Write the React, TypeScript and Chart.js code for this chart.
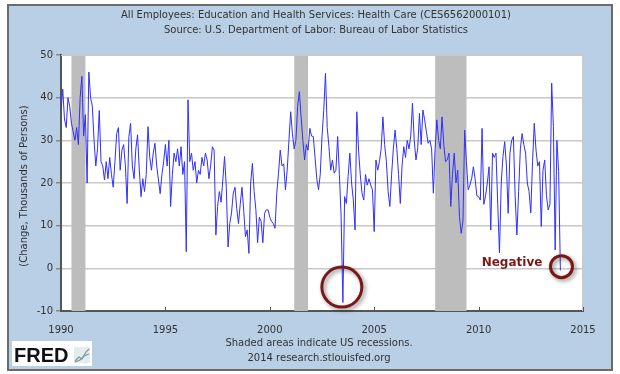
import React, { useEffect, useRef } from "react";
import { Chart, registerables } from "chart.js";

Chart.register(...registerables);

// Monthly change in health-care employment (thousands), Jan 1990 – Dec 2013
const startYear = 1990;
const changes1990s = [
  37, 42, 35, 33, 40, 38, 34, 32, 30, 33, 29, 40,
  45, 31, 36, 20, 46, 40, 38, 30, 24, 28, 37, 25,
  24, 20.7, 25, 21, 26, 22, 19, 25, 31.6, 33, 23, 27.7,
  29, 24, 15.2, 30.9, 34, 24, 21, 28, 31.3, 23, 16.8, 21,
  18, 22, 33.2, 26, 23, 27, 29.3, 24, 20.7, 17.5, 22, 25,
  29, 24, 30, 14.5, 22, 27, 25, 28, 24, 28.5, 22, 25,
  3.9, 39.5, 25, 27, 23, 25, 20, 23, 22, 26, 24, 27,
  25.4, 21, 24, 28.5, 27.7, 7.8, 14.5, 18, 15.5, 20.7, 26.2, 19,
  5, 10.5, 13, 17.6, 19, 14, 10.5, 15, 19, 13.7, 7.4, 9,
  3.5, 20, 24.6, 18, 13.7, 6, 12, 11, 6, 12.9, 13.7, 13.7,
];
const changes2000s = [
  12, 11, 10.5, 9.4, 17.6, 22.3, 27.7, 24, 24.5, 18.4, 23, 30,
  36.7, 31.6, 28, 30, 37.9, 41.4, 35.5, 30, 25.4, 29, 27.7, 32.8,
  31, 30.9, 26, 21, 18.4, 22, 31, 37, 45.7, 33, 28.5, 23,
  25.4, 22.3, 23, 30.9, 22, 12, -8, 16.8, 15.2, 21.5, 27, 20,
  16, 9, 36.7, 27.7, 22, 17.6, 16, 22, 19.5, 21, 19.5, 18.4,
  8.6, 25.4, 23, 25, 28, 35.5, 29, 25, 18, 14.5, 22, 28,
  32.4, 28, 22, 15.2, 24, 28.5, 26, 30, 28, 31, 38.7, 30,
  25.4, 28, 36.3, 29, 37.1, 34.8, 32, 29.3, 30, 28, 17.6, 28,
  34.8, 30, 28, 35.5, 29, 25, 25.4, 27, 14.5, 22, 27, 20,
  23, 12.1, 8.2, 11, 32.4, 25, 18.4, 19.5, 21, 23.8, 21, 17,
];
const changes2010s = [
  16.8, 16, 32.8, 15, 17, 20, 23.8, 9, 27, 26, 27, 15,
  3.6, 20, 26.2, 29.7, 24, 12.9, 27, 30, 30.9, 17, 7.8, 18,
  28, 31.6, 29, 27, 20, 18, 13, 25, 34, 27.7, 24, 25,
  9.8, 23, 25.4, 17, 13.7, 15, 43.4, 33.2, 4.3, 30, 22.7, -0.5,
];

const recessionStarts = [1990.5, 2001.17, 2007.92];
const recessionEnds = [1991.17, 2001.83, 2009.42];

const xTickValues = [1990, 1995, 2000, 2005, 2010, 2015];

const titleLines = [
  "All Employees: Education and Health Services: Health Care (CES6562000101)",
  "Source: U.S. Department of Labor: Bureau of Labor Statistics",
];
const yAxisTitle = "(Change, Thousands of Persons)";
const footerLines = ["Shaded areas indicate US recessions.", "2014 research.stlouisfed.org"];

// Annotation anchors (data coordinates)
const bigCircle = { x: 2003.45, y: -4.4 };
const smallCircle = { x: 2013.97, y: 0.4 };
const negativeLabel = { text: "Negative", x: 2011.6, y: 1.2 };

const FONT = "'DejaVu Sans', Verdana, sans-serif";
const BLUE_BG = "#b9cfe5";
const DARK_RED = "#7a1818";

export default function App() {
  const ref = useRef<HTMLCanvasElement | null>(null);

  useEffect(() => {
    const canvas = ref.current;
    if (!canvas) return;
    const values = [...changes1990s, ...changes2000s, ...changes2010s];
    const points = values.map((v, i) => ({ x: startYear + i / 12, y: v }));

    const decor = {
      id: "decor",
      beforeDraw(chart: any) {
        const ctx = chart.ctx;
        const a = chart.chartArea;
        ctx.save();
        ctx.fillStyle = "#ffffff";
        ctx.fillRect(0, 0, chart.width, chart.height);
        ctx.fillStyle = BLUE_BG;
        ctx.fillRect(8, 5, 604, 365);
        ctx.strokeStyle = "#6b6b6b";
        ctx.lineWidth = 2;
        ctx.strokeRect(8, 5, 604, 365);
        ctx.fillStyle = "#ffffff";
        ctx.fillRect(a.left, a.top, a.right - a.left, a.bottom - a.top);
        ctx.restore();
      },
      beforeDatasetsDraw(chart: any) {
        const ctx = chart.ctx;
        const a = chart.chartArea;
        const xs = chart.scales.x;
        ctx.save();
        ctx.fillStyle = "#bdbdbd";
        recessionStarts.forEach((s, i) => {
          const x0 = xs.getPixelForValue(s);
          const x1 = xs.getPixelForValue(recessionEnds[i]);
          ctx.fillRect(x0, a.top, x1 - x0, a.bottom - a.top);
        });
        ctx.restore();
      },
      afterDraw(chart: any) {
        const ctx = chart.ctx;
        const a = chart.chartArea;
        const xs = chart.scales.x;
        const ys = chart.scales.y;
        ctx.save();
        // plot frame
        ctx.strokeStyle = "#c9c9c9";
        ctx.lineWidth = 1;
        ctx.beginPath();
        ctx.moveTo(a.left, a.top + 0.5);
        ctx.lineTo(a.right - 0.5, a.top + 0.5);
        ctx.lineTo(a.right - 0.5, a.bottom);
        ctx.stroke();
        // x inner tick marks
        ctx.strokeStyle = "#555";
        ctx.lineWidth = 1;
        xTickValues.forEach((t) => {
          const x = Math.round(xs.getPixelForValue(t)) + 0.5;
          ctx.beginPath();
          ctx.moveTo(x, a.bottom);
          ctx.lineTo(x, a.bottom - 4);
          ctx.stroke();
        });
        // titles
        ctx.fillStyle = "#333";
        ctx.font = `10px ${FONT}`;
        ctx.textAlign = "center";
        ctx.textBaseline = "middle";
        ctx.fillText(titleLines[0], 316, 15);
        ctx.fillText(titleLines[1], 316, 30);
        // y title
        ctx.save();
        ctx.translate(24, 186);
        ctx.rotate(-Math.PI / 2);
        ctx.fillText(yAxisTitle, 0, 0);
        ctx.restore();
        // footer
        ctx.fillText(footerLines[0], 319, 343);
        ctx.fillText(footerLines[1], 319, 358);
        // FRED logo
        ctx.fillStyle = "#ffffff";
        ctx.fillRect(12, 341, 80, 25);
        ctx.fillStyle = "#111";
        ctx.font = "bold 20px 'Liberation Sans', Arial, sans-serif";
        ctx.textAlign = "left";
        ctx.textBaseline = "alphabetic";
        ctx.fillText("FRED", 14, 362);
        ctx.fillStyle = "#e4ecef";
        ctx.fillRect(74, 347, 16, 16);
        ctx.strokeStyle = "#6fa36f";
        ctx.lineWidth = 1.2;
        ctx.beginPath();
        ctx.moveTo(75, 361);
        ctx.lineTo(79, 357);
        ctx.lineTo(82, 359);
        ctx.lineTo(86, 352);
        ctx.lineTo(89, 349);
        ctx.stroke();
        ctx.strokeStyle = "#7a8fb8";
        ctx.beginPath();
        ctx.moveTo(75, 362);
        ctx.lineTo(80, 360);
        ctx.lineTo(84, 356);
        ctx.lineTo(89, 354);
        ctx.stroke();
        // circles
        const drawRing = (cx: number, cy: number, r: number, w: number) => {
          ctx.save();
          ctx.shadowColor = "rgba(0,0,0,0.45)";
          ctx.shadowBlur = 4;
          ctx.shadowOffsetX = 2;
          ctx.shadowOffsetY = 2;
          ctx.strokeStyle = DARK_RED;
          ctx.lineWidth = w;
          ctx.beginPath();
          ctx.arc(cx, cy, r, 0, Math.PI * 2);
          ctx.stroke();
          ctx.restore();
        };
        drawRing(xs.getPixelForValue(bigCircle.x), ys.getPixelForValue(bigCircle.y), 20, 3);
        drawRing(xs.getPixelForValue(smallCircle.x), ys.getPixelForValue(smallCircle.y), 11, 3);
        ctx.fillStyle = DARK_RED;
        ctx.font = `bold 12px ${FONT}`;
        ctx.textAlign = "center";
        ctx.textBaseline = "middle";
        ctx.fillText(negativeLabel.text, xs.getPixelForValue(negativeLabel.x), ys.getPixelForValue(negativeLabel.y));
        ctx.restore();
      },
    };

    const chart = new Chart(canvas, {
      type: "line",
      data: {
        datasets: [
          {
            data: points,
            borderColor: "#2f2fff",
            borderWidth: 1,
            pointRadius: 0,
            tension: 0,
            fill: false,
          },
        ],
      },
      options: {
        animation: false,
        responsive: false,
        devicePixelRatio: 1,
        layout: { padding: { left: 0, right: 37, top: 55, bottom: 0 } },
        plugins: { legend: { display: false }, tooltip: { enabled: false }, title: { display: false } },
        scales: {
          x: {
            type: "linear",
            min: 1990,
            max: 2015,
            afterFit: (s: any) => {
              s.height = 63;
            },
            afterBuildTicks: (s: any) => {
              s.ticks = xTickValues.map((v) => ({ value: v }));
            },
            ticks: {
              color: "#333",
              font: { family: FONT, size: 10 },
              padding: 5,
              maxRotation: 0,
              callback: (v: any) => String(v),
            },
            grid: { display: false },
            border: { display: true, color: "#555", width: 2 },
          },
          y: {
            min: -10,
            max: 50,
            afterFit: (s: any) => {
              s.width = 61;
            },
            ticks: {
              stepSize: 10,
              color: "#333",
              font: { family: FONT, size: 10 },
              padding: 3,
            },
            grid: { color: "#c8c8c8", lineWidth: 1.5, tickLength: 5, tickColor: "#888" },
            border: { display: true, color: "#555", width: 2 },
          },
        },
      },
      plugins: [decor],
    });
    return () => chart.destroy();
  }, []);

  return (
    <div style={{ position: "fixed", left: 0, top: 0, width: 620, height: 374 }}>
      <canvas ref={ref} width={620} height={374} style={{ display: "block", width: 620, height: 374 }} />
    </div>
  );
}
